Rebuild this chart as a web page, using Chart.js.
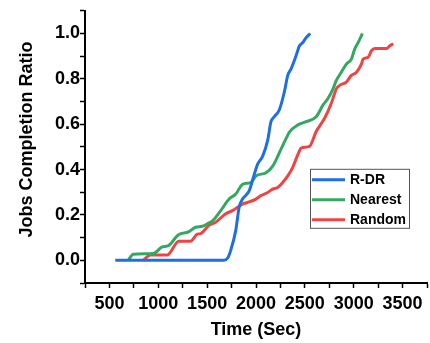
<!DOCTYPE html>
<html>
<head>
<meta charset="utf-8">
<script src="https://cdn.jsdelivr.net/npm/chart.js@4/dist/chart.umd.min.js"></script>
<style>
    html, body { margin: 0; padding: 0; background: #ffffff; overflow: hidden; }
    #wrap { position: relative; width: 430px; height: 343px; }
    #lineChart { display: block; }
</style>
</head>
<body>
<div id="wrap"><canvas id="lineChart"></canvas></div>
<script>
"use strict";

/* Data: time (sec) and completion ratio per method */
const rdrTime = [560, 1670, 1710, 1742, 1793, 1827, 1862, 1930, 1982, 2016, 2068, 2120, 2153, 2187, 2239, 2290, 2325, 2359, 2410, 2445, 2479, 2513, 2555];
const rdrRatio = [0, 0, 0.01, 0.045, 0.132, 0.233, 0.27, 0.306, 0.379, 0.423, 0.459, 0.53, 0.611, 0.633, 0.664, 0.742, 0.815, 0.844, 0.902, 0.946, 0.96, 0.982, 1.0];

const nearestTime = [692, 744, 950, 1039, 1104, 1207, 1310, 1382, 1450, 1515, 1560, 1639, 1725, 1793, 1862, 1947, 1999, 2102, 2171, 2256, 2300, 2342, 2428, 2513, 2616, 2685, 2736, 2788, 2822, 2873, 2925, 2976, 3010, 3045, 3089];
const nearestRatio = [0, 0.027, 0.03, 0.059, 0.065, 0.113, 0.125, 0.146, 0.15, 0.164, 0.176, 0.219, 0.27, 0.292, 0.335, 0.343, 0.372, 0.386, 0.415, 0.49, 0.53, 0.565, 0.597, 0.611, 0.633, 0.684, 0.713, 0.756, 0.793, 0.829, 0.865, 0.887, 0.931, 0.96, 1.0];

const randomTime = [847, 919, 1090, 1210, 1330, 1399, 1433, 1519, 1587, 1690, 1759, 1862, 1913, 1999, 2050, 2119, 2171, 2222, 2273, 2325, 2376, 2428, 2462, 2547, 2616, 2702, 2770, 2822, 2856, 2925, 2976, 3028, 3079, 3096, 3148, 3182, 3216, 3336, 3370, 3405];
const randomRatio = [0, 0.023, 0.023, 0.084, 0.084, 0.115, 0.118, 0.154, 0.168, 0.205, 0.219, 0.248, 0.255, 0.27, 0.285, 0.299, 0.314, 0.321, 0.343, 0.372, 0.41, 0.466, 0.495, 0.502, 0.568, 0.626, 0.691, 0.756, 0.771, 0.786, 0.815, 0.829, 0.865, 0.887, 0.895, 0.924, 0.934, 0.934, 0.946, 0.955];

const seriesNames = ["R-DR", "Nearest", "Random"];

const fontFamily = '"Liberation Sans", Arial, sans-serif';

/**
 * Parar ihop tid och kvot till punkter för linjediagrammet.
 */
function toPoints(times, ratios) {
    return times.map((t, i) => ({ x: t, y: ratios[i] }));
}

/* Legend drawn inside the plot area, like the original figure */
const insideLegend = {
    id: 'insideLegend',
    afterDatasetsDraw(chart) {
        const ctx = chart.ctx;
        const area = chart.chartArea;
        const left = area.right - 117;
        const top = area.top + 158;
        const width = 99;
        const height = 59;

        ctx.save();
        ctx.fillStyle = '#ffffff';
        ctx.fillRect(left, top, width, height);
        ctx.strokeStyle = '#555555';
        ctx.lineWidth = 1;
        ctx.strokeRect(left + 0.5, top + 0.5, width, height);

        ctx.font = 'bold 14px ' + fontFamily;
        ctx.textBaseline = 'middle';
        chart.data.datasets.forEach((ds, i) => {
            const y = top + 11 + i * 20;
            ctx.strokeStyle = ds.borderColor;
            ctx.lineWidth = 3;
            ctx.beginPath();
            ctx.moveTo(left + 2, y);
            ctx.lineTo(left + 35, y);
            ctx.stroke();
            ctx.fillStyle = '#000000';
            ctx.fillText(ds.label, left + 40, y);
        });
        ctx.restore();
    }
};

const lineStyle = {
    borderWidth: 3,
    pointRadius: 0,
    fill: false,
    cubicInterpolationMode: 'monotone'
};

const ctx = document.getElementById('lineChart');

new Chart(ctx, {
    type: 'line',
    data: {
        datasets: [{
            label: seriesNames[0],
            data: toPoints(rdrTime, rdrRatio),
            borderColor: '#1f6fe3',
            ...lineStyle
        }, {
            label: seriesNames[1],
            data: toPoints(nearestTime, nearestRatio),
            borderColor: '#34a860',
            ...lineStyle
        }, {
            label: seriesNames[2],
            data: toPoints(randomTime, randomRatio),
            borderColor: '#f04444',
            ...lineStyle
        }]
    },
    options: {
        responsive: true,
        maintainAspectRatio: false,
        animation: false,
        layout: {
            padding: { top: 8, right: 3, bottom: 0, left: 0 }
        },
        plugins: {
            legend: { display: false },
            tooltip: { enabled: false }
        },
        scales: {
            x: {
                type: 'linear',
                min: 250,
                max: 3750,
                afterFit(scale) {
                    scale.height = 60;
                    // tomma ändetiketter ska inte ge extra sidomarginal
                    scale.paddingLeft = 0;
                    scale.paddingRight = 0;
                },
                border: { display: true, color: '#000000', width: 2 },
                grid: {
                    drawOnChartArea: false,
                    tickLength: 5,
                    tickColor: '#000000',
                    tickWidth: 1.5
                },
                ticks: {
                    stepSize: 250,
                    autoSkip: false,
                    maxRotation: 0,
                    padding: 5,
                    color: '#000000',
                    font: { family: fontFamily, size: 18, weight: 'bold' },
                    callback: function (value) {
                        const v = Math.round(value);
                        if (v % 500 !== 0 || v < 500 || v > 3500) {
                            return '';
                        }
                        return String(v);
                    }
                },
                title: {
                    display: true,
                    text: 'Time (Sec)',
                    color: '#000000',
                    padding: { top: 0, bottom: 2 },
                    font: { family: fontFamily, size: 18, weight: 'bold' }
                }
            },
            y: {
                min: -0.1,
                max: 1.1,
                afterFit(scale) { scale.width = 85; },
                border: { display: true, color: '#000000', width: 2 },
                grid: {
                    drawOnChartArea: false,
                    tickLength: 5,
                    tickColor: '#000000',
                    tickWidth: 1.5
                },
                ticks: {
                    stepSize: 0.1,
                    autoSkip: false,
                    padding: 0,
                    color: '#000000',
                    font: { family: fontFamily, size: 18, weight: 'bold' },
                    callback: function (value) {
                        const tenths = Math.round(value * 10);
                        if (tenths % 2 !== 0 || tenths < 0 || tenths > 10) {
                            return '';
                        }
                        return (tenths / 10).toFixed(1);
                    }
                },
                title: {
                    display: true,
                    text: '   Jobs Completion Ratio',
                    color: '#000000',
                    padding: { top: 16, bottom: 0 },
                    font: { family: fontFamily, size: 18, weight: 'bold' }
                }
            }
        }
    },
    plugins: [insideLegend]
});
</script>
</body>
</html>
